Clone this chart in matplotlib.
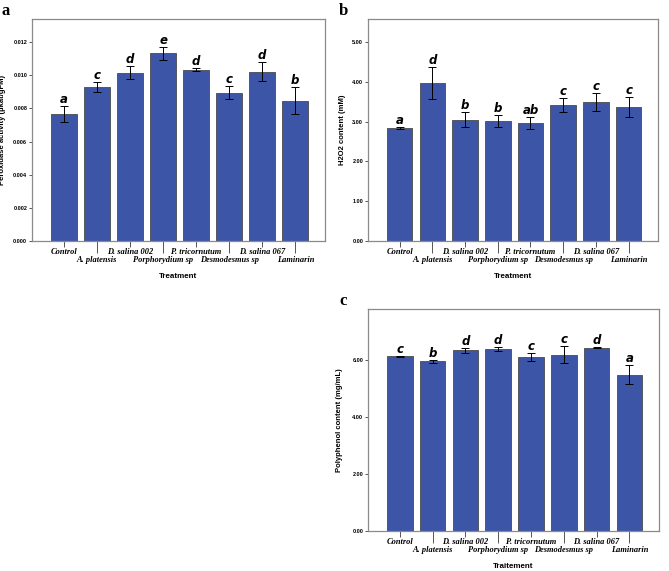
import matplotlib
matplotlib.use("Agg")
import matplotlib.pyplot as plt
import numpy as np

categories = ["Control", "A. platensis", "D. salina 002", "Porphorydium sp",
              "P. tricornutum", "Desmodesmus sp", "D. salina 067", "Laminarin"]

perox_mean = [0.00768, 0.00931, 0.01017, 0.01134, 0.01035, 0.00896, 0.01023, 0.00848]
perox_err = [0.00047, 0.00030, 0.00042, 0.00040, 0.00010, 0.00037, 0.00060, 0.00082]
perox_sig = ["a", "c", "d", "e", "d", "c", "d", "b"]

h2o2_mean = [2.84, 3.97, 3.05, 3.01, 2.96, 3.42, 3.50, 3.37]
h2o2_err = [0.025, 0.41, 0.18, 0.15, 0.155, 0.18, 0.225, 0.26]
h2o2_sig = ["a", "d", "b", "b", "ab", "c", "c", "c"]

poly_mean = [6.14, 5.96, 6.35, 6.39, 6.12, 6.20, 6.44, 5.49]
poly_err = [0.01, 0.06, 0.08, 0.06, 0.13, 0.29, 0.01, 0.34]
poly_sig = ["c", "b", "d", "d", "c", "c", "d", "a"]

W, H = 669, 571
fig = plt.figure(figsize=(W / 100, H / 100), dpi=100)

bar_color = "#3C55A6"
frame_color = "#8a8a8a"


def panel(rect, means, errs, sigs, ylim, yticks, fmt, ylabel, xlabel, letter, ylab_off):
    l, b, r, t = rect
    ax = fig.add_axes([l / W, 1 - b / H, (r - l) / W, (b - t) / H])
    x = np.arange(len(categories))
    ax.bar(x, means, width=0.78, color=bar_color, edgecolor="#4a4a4a", linewidth=0.6, zorder=2)
    ax.errorbar(x, means, yerr=errs, fmt="none", ecolor="black", elinewidth=0.7,
                capsize=2.9, capthick=0.7, zorder=3)
    for xi, m, e, s in zip(x, means, errs, sigs):
        ax.text(xi, m + e, s, ha="center", va="bottom", fontsize=8.5,
                fontweight="bold", fontstyle="italic", family="DejaVu Sans", zorder=4)
    ax.set_xlim(-0.97, 7.9)
    ax.set_ylim(*ylim)
    ax.set_yticks(yticks)
    ax.set_yticklabels([fmt.format(v) for v in yticks], fontsize=4, fontweight="bold",
                       family="Liberation Sans")
    even = x[::2]
    odd = x[1::2]
    ax.set_xticks(even)
    ax.set_xticklabels([categories[i] for i in even], fontsize=6.0, fontweight="bold",
                       fontstyle="italic", family="Liberation Serif")
    ax.set_xticks(odd, minor=True)
    ax.set_xticklabels([categories[i] for i in odd], minor=True, fontsize=6.0,
                       fontweight="bold", fontstyle="italic", family="Liberation Serif")
    ax.tick_params(axis="x", which="major", length=4.6, pad=0.2, color="#555555", width=0.7)
    ax.tick_params(axis="x", which="minor", length=8.5, pad=2.2, color="#555555", width=0.7)
    ax.tick_params(axis="y", length=2.5, pad=1, color="#555555", width=0.7)
    for sp in ax.spines.values():
        sp.set_color(frame_color)
        sp.set_linewidth(0.9)
    ax.set_ylabel(ylabel, fontsize=5.5, fontweight="bold", family="Liberation Sans")
    ax.yaxis.set_label_coords(-ylab_off / (r - l), 0.5)
    ax.set_xlabel(xlabel, fontsize=5.8, fontweight="bold", family="Liberation Sans")
    ax.xaxis.set_label_coords(0.5, -35 / (b - t))
    ax.xaxis.label.set_verticalalignment("center")
    fig.text((l - letter[1]) / W, 1 - (t - letter[2]) / H, letter[0], fontsize=12,
             fontweight="bold", family="Liberation Serif", ha="left", va="top")
    return ax


panel((32, 241, 325, 19), perox_mean, perox_err, perox_sig, (0, 0.0134),
      [0, 0.002, 0.004, 0.006, 0.008, 0.010, 0.012], "{:.3f}",
      "Peroxidase activity (µkat/gFM)", "Treatment", ("a", 30, 16), 25.5)
panel((368, 241, 658, 19), h2o2_mean, h2o2_err, h2o2_sig, (0, 5.58),
      [0, 1, 2, 3, 4, 5], "{:.2f}",
      "H2O2 content (mM)", "Treatment", ("b", 29, 16), 22)
panel((368, 531, 659, 309), poly_mean, poly_err, poly_sig, (0, 7.8),
      [0, 2, 4, 6], "{:.2f}",
      "Polyphenol content (mg/mL)", "Traitement", ("c", 29, 16), 25)

fig.savefig("out.png", dpi=100)
